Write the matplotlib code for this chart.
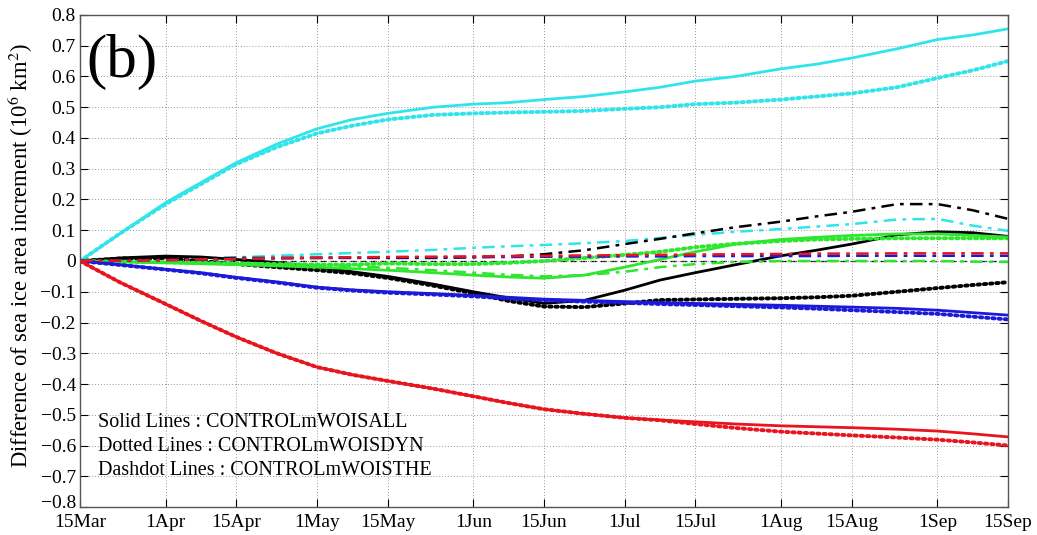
import numpy as np
import matplotlib
matplotlib.use("Agg")
import matplotlib.pyplot as plt
from matplotlib.transforms import ScaledTranslation

plt.rcParams['font.family'] = ['Liberation Serif', 'DejaVu Serif']
plt.rcParams['mathtext.fontset'] = 'stix'

# days since 15 Mar
days = [0, 8, 17, 24, 31, 39, 47, 54, 61, 70, 78, 85, 92, 100, 108, 115,
        122, 130, 139, 146, 153, 162, 170, 177, 184]

tick_days = [0, 17, 31, 47, 61, 78, 92, 108, 122, 139, 153, 170, 184]
tick_labels = ['15Mar', '1Apr', '15Apr', '1May', '15May', '1Jun', '15Jun',
               '1Jul', '15Jul', '1Aug', '15Aug', '1Sep', '15Sep']

# cyan
cyan_all = [0, 0.09, 0.19, 0.255, 0.32, 0.38, 0.43, 0.46, 0.48, 0.50, 0.51, 0.515,
            0.525, 0.535, 0.55, 0.565, 0.585, 0.60, 0.625, 0.64, 0.66, 0.69, 0.72,
            0.735, 0.755]
cyan_dyn = [0, 0.09, 0.185, 0.25, 0.315, 0.37, 0.415, 0.44, 0.46, 0.475, 0.48, 0.483,
            0.485, 0.488, 0.495, 0.50, 0.51, 0.515, 0.525, 0.535, 0.545, 0.565, 0.595,
            0.62, 0.65]
cyan_the = [0, 0.002, 0.005, 0.008, 0.012, 0.017, 0.022, 0.026, 0.03, 0.036, 0.043,
            0.048, 0.052, 0.058, 0.065, 0.075, 0.085, 0.095, 0.104, 0.112, 0.12, 0.135,
            0.137, 0.115, 0.098]

# black
black_all = [0, 0.01, 0.016, 0.013, 0.005, -0.005, -0.02, -0.035, -0.05, -0.075, -0.1,
             -0.12, -0.138, -0.128, -0.095, -0.062, -0.038, -0.012, 0.017, 0.035, 0.055,
             0.085, 0.095, 0.092, 0.08]
black_dyn = [0, 0.008, 0.01, 0.0, -0.01, -0.02, -0.03, -0.04, -0.055, -0.08, -0.105,
             -0.13, -0.148, -0.15, -0.138, -0.127, -0.125, -0.123, -0.121, -0.118, -0.113,
             -0.1, -0.088, -0.078, -0.069]
black_the = [0, 0.003, 0.006, 0.008, 0.01, 0.01, 0.01, 0.01, 0.01, 0.01, 0.012, 0.015,
             0.022, 0.035, 0.055, 0.072, 0.09, 0.11, 0.128, 0.145, 0.16, 0.185, 0.185,
             0.165, 0.137]

# green
green_all = [0, -0.003, -0.006, -0.009, -0.012, -0.016, -0.02, -0.025, -0.03, -0.038,
             -0.046, -0.052, -0.056, -0.046, -0.02, 0.005, 0.03, 0.055, 0.07, 0.077,
             0.083, 0.088, 0.088, 0.083, 0.078]
green_dyn = [0, -0.002, -0.004, -0.006, -0.008, -0.01, -0.012, -0.012, -0.008, -0.01,
             -0.01, -0.006, 0.0, 0.01, 0.02, 0.03, 0.045, 0.056, 0.065, 0.07, 0.072,
             0.074, 0.074, 0.074, 0.074]
green_the = [0, -0.002, -0.004, -0.006, -0.008, -0.01, -0.013, -0.017, -0.022, -0.03,
             -0.038, -0.045, -0.05, -0.046, -0.035, -0.02, -0.01, -0.003, 0.0, 0.0, 0.0,
             0.0, 0.0, -0.002, -0.003]

# blue
blue_all = [0, -0.012, -0.027, -0.038, -0.053, -0.068, -0.085, -0.094, -0.1, -0.106,
            -0.112, -0.118, -0.124, -0.128, -0.132, -0.135, -0.138, -0.141, -0.144,
            -0.147, -0.15, -0.154, -0.16, -0.168, -0.176]
blue_dyn = [0, -0.013, -0.028, -0.04, -0.055, -0.07, -0.087, -0.096, -0.103, -0.109,
            -0.115, -0.122, -0.128, -0.132, -0.136, -0.14, -0.143, -0.147, -0.151,
            -0.155, -0.16, -0.166, -0.172, -0.181, -0.19]
blue_the = [0, 0.001, 0.003, 0.005, 0.007, 0.009, 0.01, 0.011, 0.012, 0.012, 0.013,
            0.013, 0.014, 0.014, 0.015, 0.015, 0.016, 0.016, 0.016, 0.016, 0.017, 0.017,
            0.017, 0.017, 0.017]

# red
red_all = [0, -0.07, -0.14, -0.195, -0.247, -0.3, -0.345, -0.37, -0.39, -0.415, -0.44,
           -0.462, -0.482, -0.497, -0.51, -0.517, -0.523, -0.53, -0.536, -0.539, -0.542,
           -0.547, -0.553, -0.562, -0.572]
red_dyn = [0, -0.07, -0.14, -0.195, -0.247, -0.3, -0.345, -0.37, -0.39, -0.415, -0.44,
           -0.462, -0.482, -0.497, -0.51, -0.518, -0.53, -0.543, -0.555, -0.561, -0.567,
           -0.574, -0.581, -0.59, -0.6]
red_the = [0, 0.001, 0.003, 0.005, 0.007, 0.009, 0.011, 0.012, 0.013, 0.014, 0.015,
           0.016, 0.017, 0.018, 0.019, 0.02, 0.021, 0.022, 0.023, 0.024, 0.024, 0.025,
           0.025, 0.025, 0.025]

cyan, black, green, blue, red = '#30e4ea', 'black', '#2ee62e', '#1a1ad8', '#e8141e'

fig = plt.figure(figsize=(10.37, 5.35), dpi=100)
ax = fig.add_axes([0.0771, 0.0523, 0.8950, 0.9197])

ax.axhline(0, color='black', lw=0.9, ls=(0, (5, 3)), zorder=1)

series = [
    (cyan, cyan_all, cyan_dyn, cyan_the),
    (black, black_all, black_dyn, black_the),
    (green, green_all, green_dyn, green_the),
    (blue, blue_all, blue_dyn, blue_the),
    (red, red_all, red_dyn, red_the),
]
for c, s_all, s_dyn, s_the in series:
    ax.plot(days, s_all, color=c, lw=2.0, ls='-')
    ax.plot(days, s_dyn, color=c, lw=2.8, ls=(0, (0.6, 1.0)), dash_capstyle='round')
    ax.plot(days, s_the, color=c, lw=1.8, ls=(0, (5, 2.5, 1.5, 2.5)))

yt = np.round(np.arange(-0.8, 0.81, 0.1), 1)
ax.set_xlim(0, 184)
ax.set_ylim(-0.8, 0.8)
ax.set_xticks(tick_days)
ax.set_xticklabels(tick_labels)
ax.set_yticks(yt)
ax.set_yticklabels(['0' if v == 0 else f'{v:.1f}'.replace('-', '\u2212') for v in yt])
ax.tick_params(direction='in', length=6, width=0.8, top=True, right=True,
               labelsize=14, colors='black')
ax.tick_params(axis='x', pad=5)
ax.tick_params(axis='y', pad=3)
ax.grid(True, ls=(0, (1, 2)), color='#999999', lw=0.7)
for sp in ax.spines.values():
    sp.set_color('#555555')
    sp.set_linewidth(1.0)

# lift the bottom y label a little so it clears 15Mar
low = ax.get_yticklabels()[0]
low.set_transform(low.get_transform() + ScaledTranslation(0, 4 / 72, fig.dpi_scale_trans))

ax.set_ylabel('Difference of sea ice area increment (10$^6$ km$^2$)', fontsize=16.3)
ax.yaxis.set_label_coords(-0.0485, 0.51)

ax.text(0.045, 0.905, '(b)', transform=ax.transAxes, fontsize=44, va='center', ha='center')
legend_lines = ['Solid Lines : CONTROLmWOISALL',
                'Dotted Lines : CONTROLmWOISDYN',
                'Dashdot Lines : CONTROLmWOISTHE']
for i, t in enumerate(legend_lines):
    ax.text(3.5, -0.525 - 0.078 * i, t, fontsize=14.5, va='center', ha='left')

fig.savefig('out.png', dpi=100)
